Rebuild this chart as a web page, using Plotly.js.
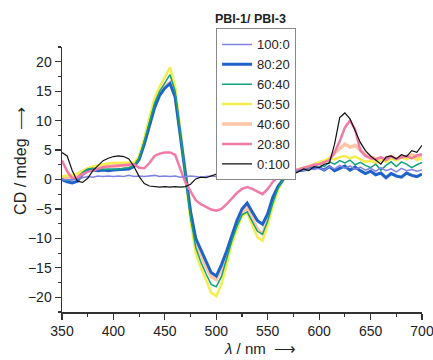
<!DOCTYPE html>
<html>
<head>
<meta charset="utf-8">
<script src="https://cdn.plot.ly/plotly-3.0.1.min.js"></script>
<style>html,body{margin:0;padding:0;background:#fff;}#chart{width:433px;height:360px;}</style>
</head>
<body>
<div id="chart"></div>
<script>
// wavelength (nm)
const wavelength = [350,355,360,365,370,375,380,385,390,395,
  400,405,410,415,420,425,430,435,440,445,
  450,455,460,465,470,475,480,485,490,495,
  500,505,510,515,520,525,530,535,540,545,
  550,555,560,565,570,575,580,585,590,595,
  600,605,610,615,620,625,630,635,640,645,
  650,655,660,665,670,675,680,685,690,695,700];

const cd_100_0 = [0.0,0.0,-0.1,0.1,0.3,0.5,0.4,0.6,0.5,0.6,
  0.5,0.6,0.5,0.7,0.5,0.6,0.5,0.6,0.7,0.5,
  0.6,0.5,0.6,0.4,0.5,0.6,0.5,0.4,0.5,0.6,
  0.5,0.6,0.7,0.5,0.8,0.6,0.9,0.7,1.0,1.2,
  1.0,1.3,1.1,1.2,1.4,1.3,1.6,1.5,1.8,1.7,
  2.0,1.6,2.2,1.8,2.4,1.9,2.3,1.7,2.1,1.6,
  1.9,1.4,2.0,1.5,1.8,1.3,1.9,1.5,1.7,1.4,1.6];

const cd_80_20 = [0.0,-0.4,-0.6,-0.3,0.9,1.5,1.6,1.5,1.6,1.5,
  1.6,1.7,1.7,1.8,2.2,3.4,6.0,9.0,12.2,14.3,
  15.5,16.3,14.0,7.5,0.5,-5.5,-10.0,-12.0,-14.0,-15.8,
  -16.4,-14.5,-12.2,-9.5,-7.0,-5.0,-4.0,-5.5,-7.0,-7.6,
  -5.8,-3.0,-1.2,0.0,0.8,1.2,1.5,1.6,1.8,2.0,
  2.0,1.6,2.2,1.5,1.9,2.3,1.6,2.1,1.5,1.0,
  1.4,0.8,1.1,0.3,1.0,0.6,0.4,1.1,0.7,0.5,0.9];

const cd_60_40 = [0.1,-0.2,0.0,0.3,1.2,1.8,1.9,1.8,1.7,1.8,
  1.8,1.7,1.9,2.0,2.4,3.6,6.5,9.8,13.0,15.0,
  16.5,17.8,15.0,8.0,0.5,-6.5,-11.5,-14.0,-16.0,-17.8,
  -18.2,-16.5,-13.5,-10.5,-8.0,-6.0,-5.5,-7.2,-8.8,-9.3,
  -7.0,-4.0,-1.5,0.0,1.0,1.4,1.6,1.8,2.0,2.4,
  2.6,2.2,3.0,2.6,3.2,2.8,3.3,2.5,2.9,2.4,
  2.0,2.6,1.6,2.4,3.0,2.2,3.0,2.6,2.0,2.5,2.9];

const cd_50_50 = [0.5,0.6,0.8,1.0,1.5,1.9,2.2,2.4,2.6,2.7,
  2.8,2.8,2.9,2.8,2.9,4.0,7.0,10.5,13.8,15.8,
  17.5,19.0,15.8,8.5,0.3,-7.0,-12.5,-15.0,-17.0,-19.2,
  -19.8,-17.8,-14.5,-11.0,-8.5,-6.2,-5.7,-7.8,-9.8,-10.4,
  -7.8,-4.5,-1.8,0.0,1.0,1.5,1.8,2.0,2.2,2.6,
  3.0,3.2,3.6,3.4,3.8,4.0,3.6,3.9,3.4,3.0,
  3.2,2.8,3.4,3.0,3.6,3.2,3.8,3.4,3.9,3.3,3.6];

const cd_40_60 = [0.3,0.2,0.4,0.8,1.4,1.8,2.0,2.1,2.2,2.2,
  2.3,2.3,2.4,2.3,2.6,3.6,6.2,9.3,12.5,14.6,
  15.8,16.5,14.3,7.8,0.5,-5.8,-10.5,-12.8,-14.8,-16.5,
  -17.0,-15.2,-12.8,-10.0,-7.5,-5.5,-4.8,-6.5,-8.5,-9.3,
  -7.0,-3.8,-1.4,0.0,1.0,1.4,1.7,1.9,2.1,2.5,
  2.8,3.0,3.5,4.5,5.3,6.0,5.5,5.8,5.0,4.2,
  3.8,3.5,3.2,3.6,3.9,3.4,4.0,3.7,4.2,3.8,4.2];

const cd_20_80 = [3.2,1.4,0.2,0.3,0.9,1.3,1.5,1.8,2.1,2.2,
  2.3,2.3,2.4,2.5,2.6,2.0,1.9,2.8,4.0,4.4,
  4.6,4.6,4.2,1.8,-0.5,-2.0,-3.5,-4.2,-4.6,-5.1,
  -5.3,-5.0,-4.2,-3.2,-2.3,-1.6,-1.3,-1.6,-2.0,-2.5,
  -1.6,-0.4,0.4,0.8,1.2,1.5,1.7,2.0,2.2,2.5,
  2.6,2.9,3.3,4.6,6.5,8.8,10.0,8.5,5.0,4.0,
  3.6,3.4,3.8,3.3,3.9,3.5,3.7,4.0,3.6,4.1,4.3];

const cd_0_100 = [4.6,4.0,1.5,-0.3,-0.5,0.2,1.5,2.4,3.2,3.6,
  3.9,4.0,3.9,3.5,2.2,0.5,-0.7,-1.1,-1.2,-1.3,
  -1.2,-1.3,-1.2,-1.3,-1.2,-0.8,0.1,0.4,0.3,0.6,
  0.9,0.5,0.8,1.1,0.6,0.9,0.7,1.0,0.6,0.9,
  1.0,1.3,0.9,1.2,1.5,0.9,1.4,1.8,1.5,2.2,
  2.0,2.6,2.8,6.0,10.5,11.3,10.3,8.3,6.3,4.9,
  4.0,3.3,2.6,3.8,4.0,3.5,4.2,3.9,4.9,4.6,5.8];

const seriesNames = ["100:0","80:20","60:40","50:50","40:60","20:80","0:100"];
const xTickVals = [350,400,450,500,550,600,650,700];
const yTickVals = [-20,-15,-10,-5,0,5,10,15,20];

const ordered = [
  {name:"40:60", y:cd_40_60, color:"#ffc6a6", width:3.5, rank:5},
  {name:"50:50", y:cd_50_50, color:"#f3ee4e", width:2.5, rank:4},
  {name:"80:20", y:cd_80_20, color:"#1f62c9", width:3, rank:2},
  {name:"60:40", y:cd_60_40, color:"#12a37a", width:1.5, rank:3},
  {name:"20:80", y:cd_20_80, color:"#f27aa6", width:2.5, rank:6},
  {name:"100:0", y:cd_100_0, color:"#8083e2", width:1.5, rank:1},
  {name:"0:100", y:cd_0_100, color:"#111111", width:1.2, rank:7}
];

const traces = ordered.map(s => ({
  x: wavelength, y: s.y, name: s.name, type: "scatter", mode: "lines",
  line: {color: s.color, width: s.width}, legendrank: s.rank
}));

const axisFont = {family: "Liberation Sans, Arial, sans-serif", size: 14, color: "#222"};

const layout = {
  width: 433, height: 360,
  margin: {l: 62, r: 11, t: 47, b: 47.5},
  paper_bgcolor: "#fff", plot_bgcolor: "#fff",
  showlegend: true,
  legend: {
    x: 0.428, xanchor: "left", y: 1.07, yanchor: "top",
    bgcolor: "#fff", bordercolor: "#888", borderwidth: 1,
    font: {family: "Liberation Sans, Arial, sans-serif", size: 13, color: "#222"},
    itemwidth: 30, tracegroupgap: 0
  },
  xaxis: {
    range: [350, 700], tickvals: xTickVals, ticks: "outside", ticklen: 6, tickwidth: 1.2,
    tickcolor: "#333", showline: true, linecolor: "#333", linewidth: 1.5,
    showgrid: false, zeroline: false, tickfont: axisFont, ticklabeloverflow: "allow",
    minor: {dtick: 25, tick0: 350, ticks: "outside", ticklen: 3, tickcolor: "#333", showgrid: false}
  },
  yaxis: {
    range: [-22.5, 22.5], tickvals: yTickVals, ticks: "outside", ticklen: 6, tickwidth: 1.2,
    tickcolor: "#333", showline: true, linecolor: "#333", linewidth: 1.5,
    showgrid: false, zeroline: false, tickfont: axisFont, ticklabeloverflow: "allow",
    minor: {dtick: 2.5, tick0: 0, ticks: "outside", ticklen: 3, tickcolor: "#333", showgrid: false}
  },
  annotations: [
    {text: "<b>PBI-1/ PBI-3</b>", xref: "paper", yref: "paper", x: 0.523, y: 1.104,
     xanchor: "center", yanchor: "middle", showarrow: false,
     font: {family: "Liberation Sans, Arial, sans-serif", size: 12.5, color: "#222"}},
    {text: "CD / mdeg  \u27F6", xref: "paper", yref: "paper", x: -0.114, y: 0.57,
     xanchor: "center", yanchor: "middle", textangle: -90, showarrow: false,
     font: {family: "Liberation Sans, Arial, sans-serif", size: 16, color: "#222"}},
    {text: "<i>λ</i> / nm  \u27F6", xref: "paper", yref: "paper", x: 0.55, y: -0.1755,
     xanchor: "center", yanchor: "bottom", showarrow: false,
     font: {family: "Liberation Sans, Arial, sans-serif", size: 15, color: "#222"}}
  ]
};

Plotly.newPlot("chart", traces, layout, {displayModeBar: false, staticPlot: true});
</script>
</body>
</html>
